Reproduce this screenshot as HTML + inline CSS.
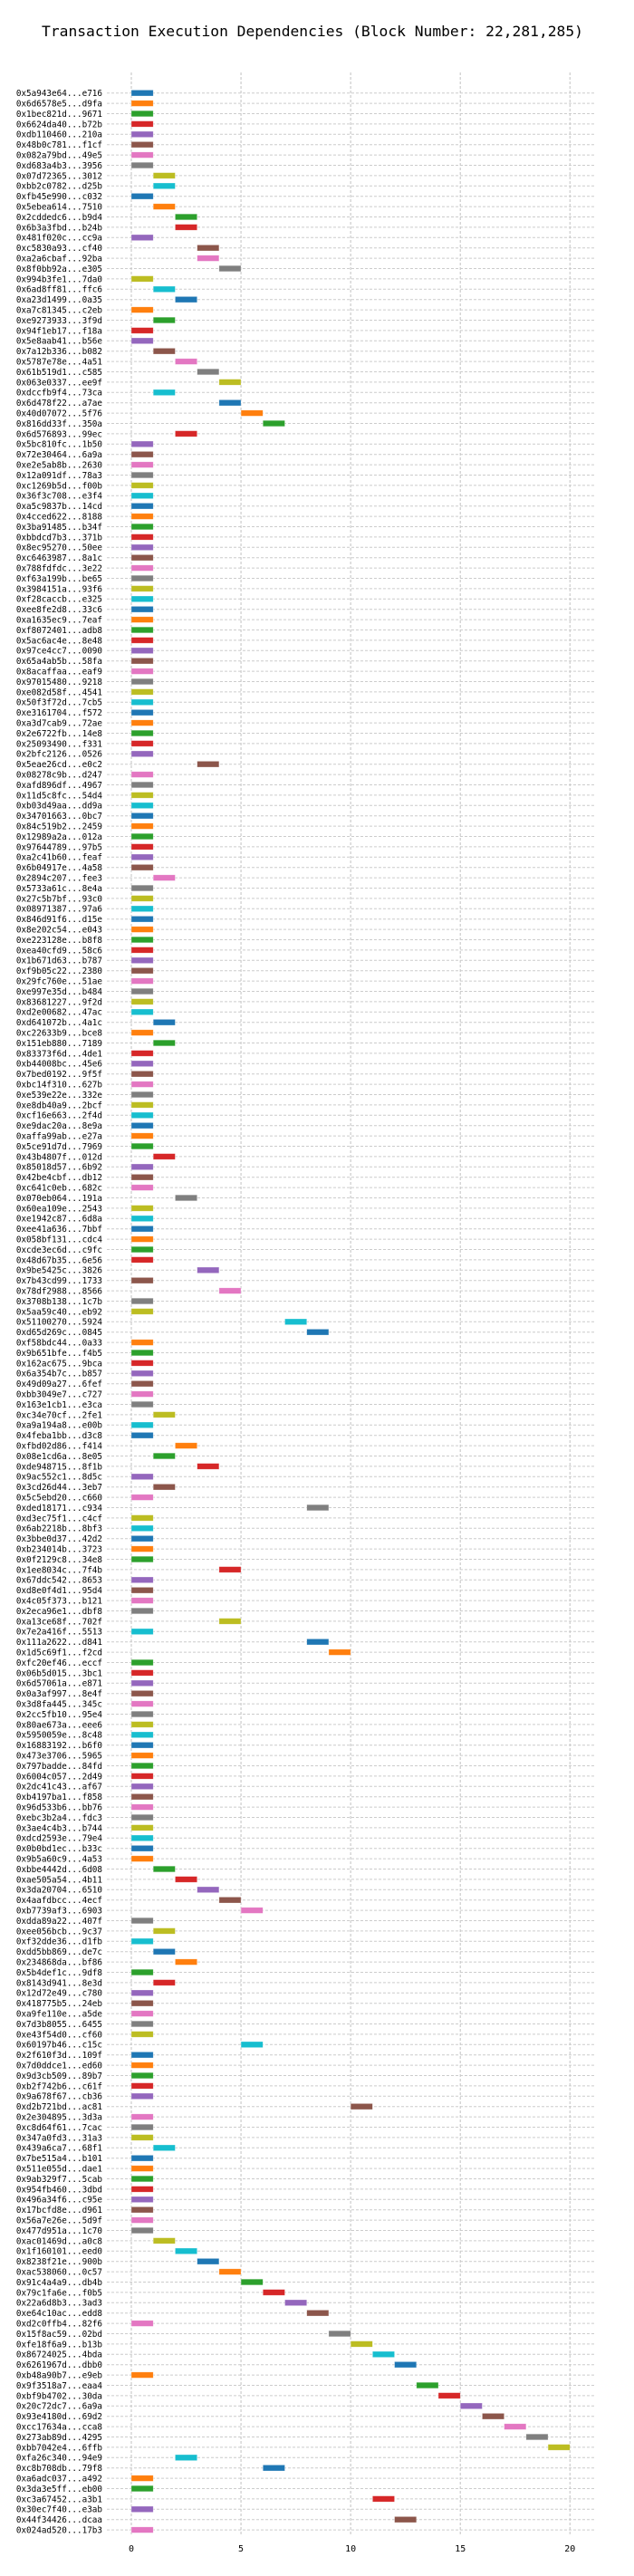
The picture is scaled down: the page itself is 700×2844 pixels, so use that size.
<!DOCTYPE html>
<html>
<head>
<meta charset="utf-8">
<style>
  html,body{margin:0;padding:0;background:#fff;}
  svg{display:block;}
  text{font-family:"DejaVu Sans Mono","Liberation Mono",monospace;fill:#000;}
</style>
</head>
<body>
<svg id="chart" width="700" height="2844" viewBox="0 0 700 2844" xmlns="http://www.w3.org/2000/svg">
  <text x="345" y="40" text-anchor="middle" font-size="16.3">Transaction Execution Dependencies (Block Number: 22,281,285)</text>
  <g id="grid"></g>
  <g id="bars"></g>
  <g id="ylabels"></g>
  <g id="xticks"></g>
</svg>
<script>
const txLabels = [
"0x5a943e64...e716","0x6d6578e5...d9fa","0x1bec821d...9671","0x6624da40...b72b","0xdb110460...210a",
"0x48b0c781...f1cf","0x082a79bd...49e5","0xd683a4b3...3956","0x07d72365...3012","0xbb2c0782...d25b",
"0xfb45e990...c032","0x5ebea614...7510","0x2cddedc6...b9d4","0x6b3a3fbd...b24b","0x481f020c...cc9a",
"0xc5830a93...cf40","0xa2a6cbaf...92ba","0x8f0bb92a...e305","0x994b3fe1...7da0","0x6ad8ff81...ffc6",
"0xa23d1499...0a35","0xa7c81345...c2eb","0xe9273933...3f9d","0x94f1eb17...f18a","0x5e8aab41...b56e",
"0x7a12b336...b082","0x5787e78e...4a51","0x61b519d1...c585","0x063e0337...ee9f","0xdccfb9f4...73ca",
"0x6d478f22...a7ae","0x40d07072...5f76","0x816dd33f...350a","0x6d576893...99ec","0x5bc810fc...1b50",
"0x72e30464...6a9a","0xe2e5ab8b...2630","0x12a091df...78a3","0xc1269b5d...f00b","0x36f3c708...e3f4",
"0xa5c9837b...14cd","0x4cced622...8188","0x3ba91485...b34f","0xbbdcd7b3...371b","0x8ec95270...50ee",
"0xc6463987...8a1c","0x788fdfdc...3e22","0xf63a199b...be65","0x3984151a...93f6","0xf28caccb...e325",
"0xee8fe2d8...33c6","0xa1635ec9...7eaf","0xf8072401...adb8","0x5ac6ac4e...8e48","0x97ce4cc7...0090",
"0x65a4ab5b...58fa","0x8acaffaa...eaf9","0x97015480...9218","0xe082d58f...4541","0x50f3f72d...7cb5",
"0xe3161704...f572","0xa3d7cab9...72ae","0x2e6722fb...14e8","0x25093490...f331","0x2bfc2126...0526",
"0x5eae26cd...e0c2","0x08278c9b...d247","0xafd896df...4967","0x11d5c8fc...54d4","0xb03d49aa...dd9a",
"0x34701663...0bc7","0x84c519b2...2459","0x12989a2a...012a","0x97644789...97b5","0xa2c41b60...feaf",
"0x6b04917e...4a58","0x2894c207...fee3","0x5733a61c...8e4a","0x27c5b7bf...93c0","0x08971387...97a6",
"0x846d91f6...d15e","0x8e202c54...e043","0xe223128e...b8f8","0xea40cfd9...58c6","0x1b671d63...b787",
"0xf9b05c22...2380","0x29fc760e...51ae","0xe997e35d...b484","0x83681227...9f2d","0xd2e00682...47ac",
"0xd641072b...4a1c","0xc22633b9...bce8","0x151eb880...7189","0x83373f6d...4de1","0xb44008bc...45e6",
"0x7bed0192...9f5f","0xbc14f310...627b","0xe539e22e...332e","0xe8db40a9...2bcf","0xcf16e663...2f4d",
"0xe9dac20a...8e9a","0xaffa99ab...e27a","0x5ce91d7d...7969","0x43b4807f...012d","0x85018d57...6b92",
"0x42be4cbf...db12","0xc641c0eb...682c","0x070eb064...191a","0x60ea109e...2543","0xe1942c87...6d8a",
"0xee41a636...7bbf","0x058bf131...cdc4","0xcde3ec6d...c9fc","0x48d67b35...6e56","0x9be5425c...3826",
"0x7b43cd99...1733","0x78df2988...8566","0x3708b138...1c7b","0x5aa59c40...eb92","0x51100270...5924",
"0xd65d269c...0845","0xf58bdc44...0a33","0x9b651bfe...f4b5","0x162ac675...9bca","0x6a354b7c...b857",
"0x49d09a27...6fef","0xbb3049e7...c727","0x163e1cb1...e3ca","0xc34e70cf...2fe1","0xa9a194a8...e00b",
"0x4feba1bb...d3c8","0xfbd02d86...f414","0x08e1cd6a...8e05","0xde948715...8f1b","0x9ac552c1...8d5c",
"0x3cd26d44...3eb7","0x5c5ebd20...c660","0xded18171...c934","0xd3ec75f1...c4cf","0x6ab2218b...8bf3",
"0x3bbe0d37...42d2","0xb234014b...3723","0x0f2129c8...34e8","0x1ee8034c...7f4b","0x67ddc542...8653",
"0xd8e0f4d1...95d4","0x4c05f373...b121","0x2eca96e1...dbf8","0xa13ce68f...702f","0x7e2a416f...5513",
"0x111a2622...d841","0x1d5c69f1...f2cd","0xfc20ef46...eccf","0x06b5d015...3bc1","0x6d57061a...e871",
"0x0a3af997...8e4f","0x3d8fa445...345c","0x2cc5fb10...95e4","0x80ae673a...eee6","0x5950059e...8c48",
"0x16883192...b6f0","0x473e3706...5965","0x797badde...84fd","0x6004c057...2d49","0x2dc41c43...af67",
"0xb4197ba1...f858","0x96d533b6...bb76","0xebc3b2a4...fdc3","0x3ae4c4b3...b744","0xdcd2593e...79e4",
"0x0b0bd1ec...b33c","0x9b5a60c9...4a53","0xbbe4442d...6d08","0xae505a54...4b11","0x3da20704...6510",
"0x4aafdbcc...4ecf","0xb7739af3...6903","0xdda89a22...407f","0xee056bcb...9c37","0xf32dde36...d1fb",
"0xdd5bb869...de7c","0x234868da...bf86","0x5b4def1c...9df8","0x8143d941...8e3d","0x12d72e49...c780",
"0x418775b5...24eb","0xa9fe110e...a5de","0x7d3b8055...6455","0xe43f54d0...cf60","0x60197b46...c15c",
"0x2f610f3d...109f","0x7d0ddce1...ed60","0x9d3cb509...89b7","0xb2f742b6...c61f","0x9a678f67...cb36",
"0xd2b721bd...ac81","0x2e304895...3d3a","0xc8d64f61...7cac","0x347a0fd3...31a3","0x439a6ca7...68f1",
"0x7be515a4...b101","0x511e055d...dae1","0x9ab329f7...5cab","0x954fb460...3dbd","0x496a34f6...c95e",
"0x17bcfd8e...d961","0x56a7e26e...5d9f","0x477d951a...1c70","0xac01469d...a0c8","0x1f160101...eed0",
"0x8238f21e...900b","0xac538060...0c57","0x91c4a4a9...db4b","0x79c1fa6e...f0b5","0x22a6d8b3...3ad3",
"0xe64c10ac...edd8","0xd2c0ffb4...82f6","0x15f8ac59...02bd","0xfe18f6a9...b13b","0x86724025...4bda",
"0x6261967d...dbb0","0xb48a90b7...e9eb","0x9f3518a7...eaa4","0xbf9b4702...30da","0x20c72dc7...6a9a",
"0x93e4180d...69d2","0xcc17634a...cca8","0x273ab89d...4295","0xbb7042e4...6ffb","0xfa26c340...94e9",
"0xc8b708db...79f8","0xa6adc037...a492","0x3da3e5ff...eb00","0xc3a67452...a3b1","0x30ec7f40...e3ab",
"0x44f34426...dcaa","0x024ad520...17b3"
];
const startTimes = [
0,0,0,0,0,0,0,0,1,1, 0,1,2,2,0,3,3,4,0,1,
2,0,1,0,0,1,2,3,4,1, 4,5,6,2,0,0,0,0,0,0,
0,0,0,0,0,0,0,0,0,0, 0,0,0,0,0,0,0,0,0,0,
0,0,0,0,0,3,0,0,0,0, 0,0,0,0,0,0,1,0,0,0,
0,0,0,0,0,0,0,0,0,0, 1,0,1,0,0,0,0,0,0,0,
0,0,0,1,0,0,0,2,0,0, 0,0,0,0,3,0,4,0,0,7,
8,0,0,0,0,0,0,0,1,0, 0,2,1,3,0,1,0,8,0,0,
0,0,0,4,0,0,0,0,4,0, 8,9,0,0,0,0,0,0,0,0,
0,0,0,0,0,0,0,0,0,0, 0,0,1,2,3,4,5,0,1,0,
1,2,0,1,0,0,0,0,0,5, 0,0,0,0,0,10,0,0,0,1,
0,0,0,0,0,0,0,0,1,2, 3,4,5,6,7,8,0,9,10,11,
12,0,13,14,15,16,17,18,19,2, 6,0,0,11,0,12,0
];
const xTickValues = [0,5,10,15,20];
const xTickLabels = ["0","5","10","15","20"];
const DURATION = 1;

const NS = "http://www.w3.org/2000/svg";
const X0 = 145, XUNIT = 24.215, AX_L = 118, AX_R = 657;
const Y0 = 102.7, ROW = 11.4;
const BAR_H = 6.6;
const palette = ["#1f77b4","#ff7f0e","#2ca02c","#d62728","#9467bd","#8c564b","#e377c2","#7f7f7f","#bcbd22","#17becf"];
function xScale(v){ return X0 + v * XUNIT; }
function yScale(i){ return Y0 + i * ROW; }
function mk(tag, attrs){ const e = document.createElementNS(NS, tag); for (const k in attrs) e.setAttribute(k, attrs[k]); return e; }

const grid = document.getElementById("grid");
const bars = document.getElementById("bars");
const ylab = document.getElementById("ylabels");
const xt = document.getElementById("xticks");
const yTop = 80, yBot = 2800;

xTickValues.forEach((v, k) => {
  const l = mk("line", {x1: xScale(v), x2: xScale(v), y1: yTop, y2: yBot, stroke: "#cccccc", "stroke-width": 1.2, "stroke-dasharray": "3,2"});
  
  
  grid.appendChild(l);
  const t = mk("text", {x: xScale(v), y: 2817, "text-anchor": "middle", "font-size": 10});
  t.textContent = xTickLabels[k];
  
  
  xt.appendChild(t);
});

txLabels.forEach((lab, i) => {
  const y = yScale(i);
  const g = mk("line", {x1: AX_L, x2: AX_R, y1: y, y2: y, stroke: "#cccccc", "stroke-width": 1, "stroke-dasharray": "3,2"});
  
  
  grid.appendChild(g);
  const t = mk("text", {x: 113, y: y + 3.4, "text-anchor": "end", "font-size": 9.3});
  t.textContent = lab;
  
  
  ylab.appendChild(t);
  const s = startTimes[i];
  const r = mk("rect", {x: xScale(s), y: y - BAR_H/2, width: xScale(s + DURATION) - xScale(s), height: BAR_H,
    fill: palette[i % 10], stroke: "rgba(255,255,255,0.5)", "stroke-width": 0.6});
  
  
  bars.appendChild(r);
});
</script>
</body>
</html>
